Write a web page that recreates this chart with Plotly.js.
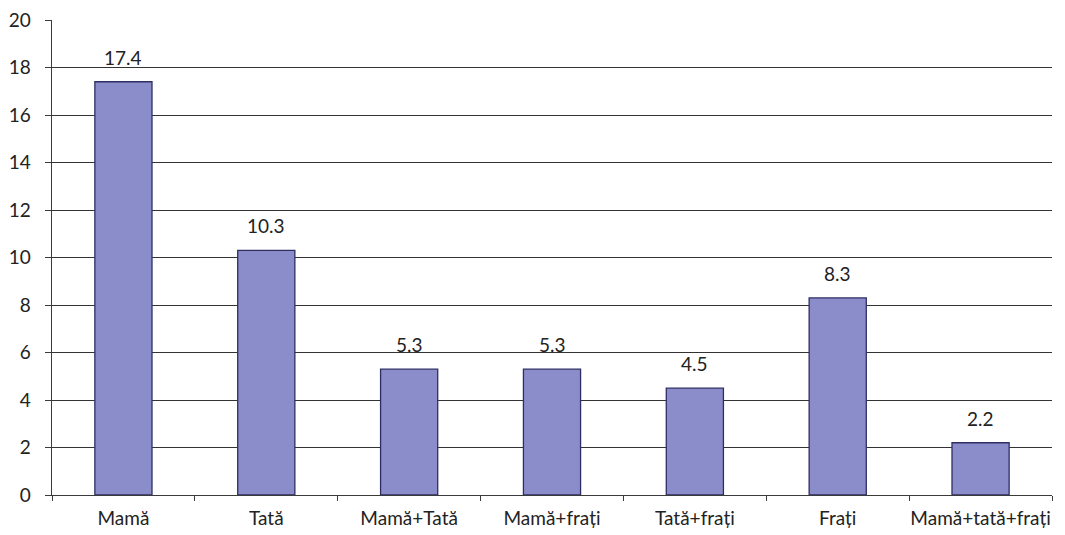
<!DOCTYPE html>
<html>
<head>
<meta charset="utf-8">
<script src="https://cdn.plot.ly/plotly-3.0.1.min.js"></script>
<style>
  html, body { margin: 0; padding: 0; background: #fff; }
  #chart { width: 1065px; height: 535px; }
</style>
</head>
<body>
<div id="chart"></div>
<script>
// Categorii de persoane și procentele aferente
const categories = ["Mamă", "Tată", "Mamă+Tată", "Mamă+frați", "Tată+frați", "Frați", "Mamă+tată+frați"];
const values = [17.4, 10.3, 5.3, 5.3, 4.5, 8.3, 2.2];
const yTicks = [0, 2, 4, 6, 8, 10, 12, 14, 16, 18, 20];

const fontFamily = "Lato, Open Sans, sans-serif";
const textColor = "#222222";

const trace = {
  type: "bar",
  x: categories,
  y: values,
  width: 0.4,
  marker: {
    color: "#8b8dcb",
    line: { color: "#2e2e63", width: 1.3 }
  },
  hoverinfo: "x+y"
};

// Etichete cu valori deasupra fiecărei coloane
const valueLabels = categories.map((c, i) => ({
  x: c,
  y: values[i],
  xref: "x",
  yref: "y",
  text: values[i].toFixed(1),
  showarrow: false,
  yanchor: "bottom",
  yshift: 11,
  font: { family: fontFamily, size: 19, color: textColor }
}));

const layout = {
  width: 1065,
  height: 535,
  margin: { l: 52, r: 13, t: 20, b: 40 },
  paper_bgcolor: "#ffffff",
  plot_bgcolor: "#ffffff",
  showlegend: false,
  font: { family: fontFamily, size: 19, color: textColor },
  annotations: valueLabels,
  xaxis: {
    type: "category",
    tickson: "boundaries",
    ticks: "outside",
    ticklen: 5,
    tickcolor: "#3a3a3a",
    tickangle: 0,
    showline: true,
    linecolor: "#3a3a3a",
    linewidth: 1.4,
    showgrid: false,
    ticklabelstandoff: 6,
    tickfont: { family: fontFamily, size: 19, color: textColor },
    fixedrange: true
  },
  yaxis: {
    range: [0, 20],
    tickvals: yTicks,
    ticktext: yTicks.map(String),
    ticks: "outside",
    ticklen: 6,
    tickcolor: "#3a3a3a",
    showline: true,
    linecolor: "#3a3a3a",
    linewidth: 1.4,
    showgrid: true,
    gridcolor: "#333333",
    gridwidth: 1,
    zeroline: false,
    ticklabelstandoff: 10,
    tickfont: { family: fontFamily, size: 19, color: textColor },
    fixedrange: true
  }
};

Plotly.newPlot("chart", [trace], layout, { displayModeBar: false, staticPlot: true });
</script>
</body>
</html>
